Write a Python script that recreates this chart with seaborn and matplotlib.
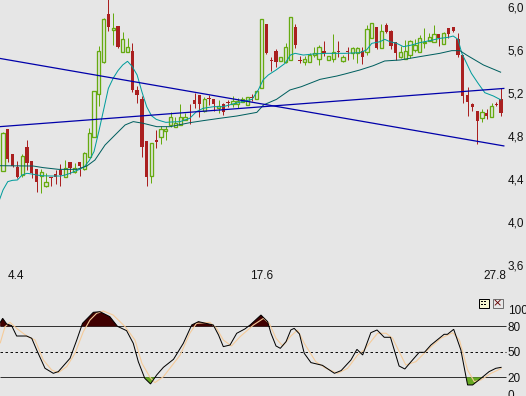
import numpy as np
import pandas as pd
import matplotlib
matplotlib.use("Agg")
import matplotlib.pyplot as plt
from matplotlib.patches import Rectangle
import seaborn as sns

# --- price candles ---
high = [4.841,4.862,4.630,4.565,4.633,4.763,4.565,4.493,4.493,4.459,4.422,4.484,4.540,4.577,4.555,4.546,4.555,4.655,4.872,5.216,
        5.637,5.895,6.100,5.941,5.823,5.764,5.709,5.662,5.265,5.172,4.751,4.732,4.856,4.893,4.893,5.020,4.980,5.098,5.017,5.098,
        5.203,5.178,5.160,5.181,5.141,5.135,5.110,5.135,5.172,5.151,5.160,5.160,5.191,5.222,5.885,5.842,5.532,5.606,5.538,5.668,
        5.910,5.842,5.544,5.547,5.569,5.625,5.646,5.684,5.541,5.749,5.684,5.553,5.631,5.631,5.631,5.631,5.832,5.848,5.811,5.842,
        5.848,5.786,5.671,5.637,5.693,5.693,5.699,5.739,5.808,5.755,5.832,5.749,5.764,5.801,5.811,5.755,5.553,5.259,5.104,5.030,
        5.051,5.051,5.104,5.120,5.244]
body_top = [4.825,4.862,4.630,4.515,4.611,4.698,4.565,4.493,4.462,4.376,4.422,4.447,4.487,4.500,4.555,4.500,4.555,4.639,4.825,5.216,
        5.588,5.885,5.935,5.805,5.823,5.699,5.625,5.591,5.228,5.144,4.751,4.732,4.763,4.862,4.862,4.974,4.918,4.980,4.974,4.980,
        5.135,5.178,5.141,5.154,5.141,5.079,5.098,5.116,5.129,5.129,5.147,5.160,5.160,5.222,5.885,5.842,5.507,5.591,5.538,5.625,
        5.910,5.811,5.507,5.519,5.553,5.569,5.631,5.591,5.541,5.585,5.591,5.532,5.591,5.616,5.622,5.591,5.792,5.848,5.811,5.774,
        5.832,5.780,5.671,5.581,5.591,5.681,5.643,5.708,5.677,5.718,5.746,5.749,5.755,5.801,5.811,5.699,5.553,5.178,5.101,5.030,
        5.020,5.014,5.076,5.095,5.141]
body_bot = [4.478,4.589,4.524,4.416,4.438,4.552,4.453,4.376,4.431,4.338,4.410,4.416,4.438,4.422,4.506,4.462,4.524,4.490,4.602,4.788,
        5.188,5.492,5.817,5.789,5.631,5.585,5.585,5.231,5.182,4.701,4.422,4.431,4.744,4.788,4.850,4.899,4.881,4.906,4.949,4.974,
        5.098,5.098,5.036,5.144,5.098,5.058,5.027,5.110,5.098,5.098,5.116,5.092,5.154,5.141,5.244,5.575,5.498,5.488,5.495,5.488,
        5.504,5.650,5.495,5.491,5.491,5.553,5.513,5.569,5.504,5.513,5.578,5.498,5.585,5.569,5.569,5.538,5.585,5.708,5.616,5.616,
        5.771,5.637,5.569,5.532,5.513,5.550,5.600,5.585,5.662,5.687,5.677,5.708,5.653,5.749,5.774,5.553,5.172,5.119,5.073,4.943,
        4.971,4.989,4.980,5.089,5.017]
low = [4.478,4.561,4.515,4.407,4.422,4.484,4.407,4.283,4.273,4.329,4.338,4.354,4.338,4.422,4.447,4.453,4.431,4.484,4.602,4.788,
        5.079,5.476,5.780,5.647,5.622,5.585,5.585,5.212,5.110,4.608,4.338,4.366,4.686,4.726,4.763,4.887,4.881,4.906,4.949,4.912,
        5.064,4.980,5.027,5.089,5.036,5.011,4.996,5.073,5.073,5.058,5.116,5.092,5.126,5.141,5.244,5.563,5.408,5.445,5.495,5.476,
        5.504,5.622,5.476,5.461,5.491,5.538,5.461,5.544,5.504,5.491,5.532,5.491,5.507,5.513,5.476,5.470,5.553,5.708,5.606,5.616,
        5.755,5.609,5.507,5.522,5.513,5.522,5.585,5.585,5.622,5.687,5.677,5.640,5.653,5.715,5.770,5.532,5.110,4.989,5.033,4.723,
        4.933,4.958,4.980,5.079,4.989]
rising = [1,0,0,0,1,0,0,0,1,1,0,0,0,1,0,1,0,1,1,1,
          1,1,0,1,0,1,1,0,0,0,0,1,0,1,1,1,1,1,1,0,
          0,0,1,0,0,1,0,0,1,1,1,1,0,1,1,0,0,0,1,1,
          1,0,0,1,1,1,1,0,1,1,0,1,0,1,1,0,1,1,0,1,
          0,0,0,1,1,1,1,1,1,1,1,0,1,0,0,0,0,0,0,0,
          1,0,1,0,0]

# --- moving averages ---
fast_x = [-1,0,1,2,3,4,5,6,7,8,10,12,13,14,15,16,17,18,19,20,21,22,23,24,25,26,27,28,29,30,31,32,33,34,35,
          37,39,40.4,41.8,44,46,48,50,52,53.3,54.3,55.4,57,58.9,60,61,62.7,64.8,67.6,71.4,
          74.5,75.9,77,78.7,79.7,80.8,82.2,83.6,85.3,87,89.1,91.2,93,94,95,95.8,96.8,97.8,99.2,100.6,102.4,104]
fast_y = [4.174,4.298,4.376,4.388,4.391,4.438,4.453,4.447,4.438,4.431,4.428,4.428,4.438,4.453,4.472,4.490,4.515,4.571,4.655,4.841,5.042,5.243,5.337,5.408,5.461,5.495,5.445,5.368,5.212,5.073,4.989,4.955,4.940,4.927,4.930,
          4.934,4.965,5.027,5.058,5.073,5.073,5.098,5.120,5.141,5.228,5.321,5.368,5.414,5.476,5.553,5.569,5.553,5.563,5.569,5.569,
          5.575,5.600,5.662,5.677,5.699,5.677,5.662,5.631,5.646,5.668,5.687,5.708,5.718,5.730,5.699,5.569,5.476,5.383,5.290,5.203,5.172,5.135]
slow_x = [-0.7,6.3,8.4,11.6,15.4,17.5,19.2,21.3,23.4,25.5,27.2,29.3,32.1,34.9,39,41.8,45.3,48.8,53,54.4,57.1,59.9,62.3,66.2,69.7,71.4,74.5,77.3,79.7,82.9,87,91.2,93.7,95.4,96.8,100.3,104]
slow_y = [4.524,4.521,4.506,4.490,4.490,4.521,4.577,4.716,4.810,4.903,4.934,4.918,4.887,4.887,4.924,4.943,4.965,4.986,5.020,5.089,5.141,5.228,5.259,5.327,5.358,5.377,5.414,5.454,5.498,5.507,5.538,5.569,5.594,5.594,5.553,5.461,5.392]

# --- trend lines ---
trend_x = [-0.7, 104.7]
trend_down = [5.522, 4.707]
trend_up = [4.887, 5.243]

# --- stochastic ---
k_x = [-0.6,-0.07,0.77,1.8,2.85,4.94,6,7.03,8.77,10.5,11.55,14,15.4,16.6,18.86,20.25,22.3,23.9,25.8,27.2,28.25,29.6,30.8,32.1,33.5,35.6,37.65,39.4,40.8,43.9,45,46,47.4,48.8,50.5,51.6,53.86,
       55.25,55.95,57,57.9,59.1,60.1,60.8,61.9,62.9,64.3,66.7,69.2,70.6,72.65,73.9,75.1,76.8,78.1,79.6,80.9,82.7,83.9,85.2,86.9,88,89.35,92.1,92.8,94.1,95.6,97,98.05,99.8,101.5,102.9,104.1]
k_y = [84.3,89.4,82.7,80.8,68.6,68.6,65.9,52.2,30.6,24.7,26.7,42.4,63.9,83.5,96.5,97.2,91.4,80,74.9,60,38.4,18.8,12.2,22.8,31.8,41.2,60,81.6,85.5,81.6,69.8,56.1,58,71.8,76.9,81.6,93.3,
       85.5,71.8,56.9,54.1,62,75.7,77.6,71,48.2,37.3,34.1,24.7,27.9,40.4,52.9,46.3,72.5,75.7,67.1,67.1,33.3,29.8,38.4,49.4,49.4,58,70.6,70.6,76.5,52.2,11,11,18.8,26.7,30.6,31.8]
d_x = [-0.6,0.42,1.46,2.85,4.94,6.68,8.42,10.16,11.55,13.3,15.03,16.77,18.16,19.55,20.95,23,25.5,27.55,29,30.7,31.7,33.5,37,39,40.4,43.2,44.6,46,47.7,49.5,52.3,54.4,
       55.6,57,58.4,60.1,61.5,62.9,65.3,67.4,69.9,71.95,74.05,75.4,76.8,78.2,80,81.35,84.1,86.2,88.65,91.4,93.9,95.3,97,98.4,99.8,101.9,104.1]
d_y = [60,79.6,84.7,77.6,68.6,63.9,40.4,28.6,25.5,32.6,48.2,73.7,87.4,95.3,98,93.3,79.6,63.9,36.5,20,13.7,20.8,46.3,71.8,83.5,84.7,77.6,63.9,56.9,67.8,81.6,89.4,
       83.5,65.9,56.9,68.6,75.7,60,38.4,30.6,24.7,30.6,46.3,52.2,62,71.8,71.8,65.9,34.5,38.4,52.2,65.9,72.5,63.9,28.6,14.9,16.9,24.7,30.6]

# --- labels ---
price_ticks = [6.0, 5.6, 5.2, 4.8, 4.4, 4.0, 3.6]
price_labels = ["6,0", "5,6", "5,2", "4,8", "4,4", "4,0", "3,6"]
date_pos = [2.7, 53.9, 102.7]
date_labels = ["4.4", "17.6", "27.8"]
stoch_ticks = [100, 80, 50, 20, 0]

BG = "#e6e6e6"
GREEN = "#66aa11"
RED = "#aa2020"
W, H = 526, 396
PX = 0.72  # one pixel in points at 100 dpi

sns.set_theme(style="white", rc={"figure.facecolor": BG, "axes.facecolor": BG, "savefig.facecolor": BG})
plt.rcParams["font.family"] = ["Liberation Sans", "DejaVu Sans"]

fig = plt.figure(figsize=(W / 100, H / 100), dpi=100)
split = 292
ax = fig.add_axes([0, (H - split) / H, 1, split / H])
ax2 = fig.add_axes([0, 0, 1, (H - split) / H])
for a in (ax, ax2):
    a.set_xlim(-0.626, 109.2)
    for s in a.spines.values():
        s.set_visible(False)

ax.set_ylim(6.065 - 0.0093 * split, 6.065)
ax2.set_ylim(-2.0, 120.4)

xs = np.arange(len(high))
is_up = np.array(rising, bool)
top, bot = np.array(body_top), np.array(body_bot)
colors = np.where(is_up, GREEN, RED)

ax.vlines(xs, low, high, colors=colors, lw=PX, zorder=2)
ax.bar(xs[is_up], (top - bot)[is_up], bottom=bot[is_up], width=0.68, facecolor=BG, edgecolor=GREEN,
       linewidth=0.95, zorder=3)
ax.bar(xs[~is_up], (top - bot)[~is_up], bottom=bot[~is_up], width=0.68, facecolor=RED, edgecolor=RED,
       linewidth=0, zorder=3)

def line(a, x, y, color, z, lw=PX):
    df = pd.DataFrame({"x": x, "y": y})
    sns.lineplot(data=df, x="x", y="y", ax=a, color=color, sort=False, estimator=None, zorder=z, legend=False)
    drawn = a.lines[-1]
    drawn.set_linewidth(lw)
    drawn.set_solid_capstyle("butt")
    drawn.set_solid_joinstyle("miter")

line(ax, fast_x, fast_y, "#009c9c", 4)
line(ax, slow_x, slow_y, "#005f5f", 4)
line(ax, trend_x, trend_down, "#0000aa", 5, lw=0.9)
line(ax, trend_x, trend_up, "#0000aa", 5, lw=0.9)

# stochastic panel
gx = np.array(k_x, float)
gy = np.array(k_y, float)
ax2.fill_between(gx, gy, 80, where=gy >= 80, interpolate=True, color="#400000", lw=0, zorder=2)
ax2.fill_between(gx, gy, 20, where=gy <= 20, interpolate=True, color="#66aa22", lw=0, zorder=2)
ax2.hlines([80, 20], -0.626, 105.0, colors="#333333", lw=PX, zorder=1)
ax2.hlines([50], -0.626, 105.0, colors="#111111", lw=PX, linestyles=(0, (2.5, 2.5)), zorder=1)
line(ax2, d_x, d_y, "#f5cb9a", 3, lw=0.8)
line(ax2, k_x, k_y, "#000000", 4)

# axes labels placed via the axis machinery
ax.spines["right"].set_position(("data", 105.0))
ax.yaxis.tick_right()
ax.set_yticks(price_ticks, price_labels)
ax.spines["bottom"].set_position(("data", 3.6))
ax.set_xticks(date_pos, date_labels)
ax.tick_params(axis="y", length=0, pad=1.2, labelsize=8.5, labelcolor="#111111")
ax.tick_params(axis="x", length=0, pad=3.8, labelsize=8.5, labelcolor="#111111")
ax.set_xlabel("")
ax.set_ylabel("")

ax2.spines["right"].set_position(("data", 105.0))
ax2.yaxis.tick_right()
ax2.set_yticks(stoch_ticks)
ax2.set_xticks([])
ax2.tick_params(axis="y", length=0, pad=1.2, labelsize=8.5, labelcolor="#111111")
ax2.set_xlabel("")
ax2.set_ylabel("")

# toolbar buttons
def fr(x0, y0, w, h, **kw):
    fig.add_artist(Rectangle((x0 / W, 1 - (y0 + h) / H), w / W, h / H, transform=fig.transFigure, **kw))

fr(478.5, 298.5, 10, 9, facecolor="#f6f6cf", edgecolor="#000000", lw=PX)
for (gxp, gyp, gw) in [(480.5, 300.5, 2), (484, 300.5, 2), (480.5, 303.5, 2), (484, 303.5, 2)]:
    fr(gxp, gyp, gw, 1, facecolor="#000000", edgecolor="none", lw=0)
fr(492.5, 298.5, 10, 9, facecolor="#e8e8e8", edgecolor="#707070", lw=PX)
fig.text(497.5 / W, 1 - 303 / H, "×", color="#660000", fontsize=8, ha="center", va="center", family="DejaVu Sans")

fig.savefig("out.png", dpi=100, facecolor=BG)
